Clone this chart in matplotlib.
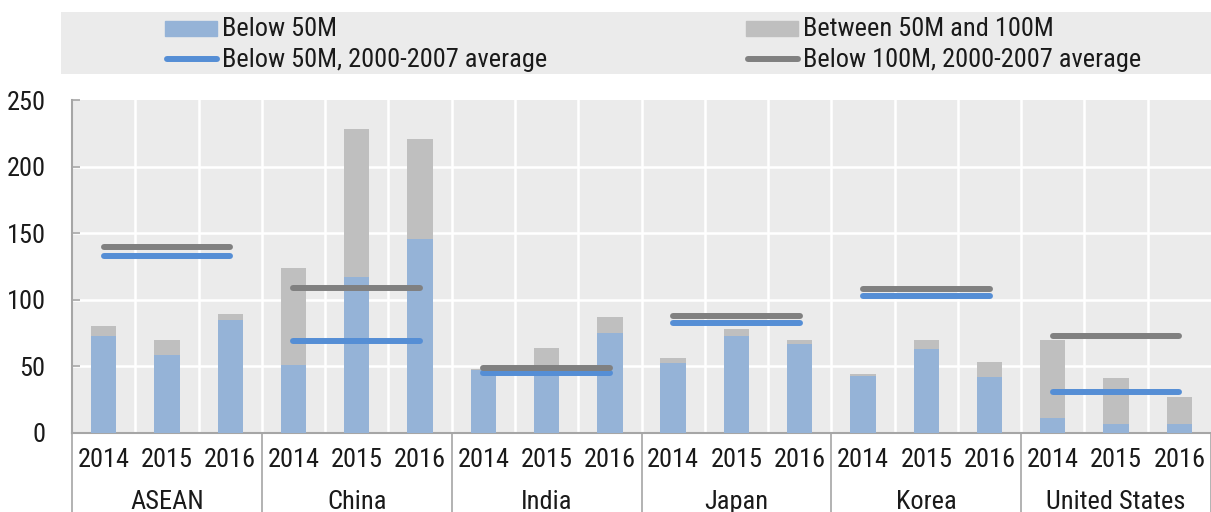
import matplotlib
matplotlib.use("Agg")
import matplotlib.pyplot as plt
from matplotlib import font_manager
from matplotlib.patches import Rectangle
from matplotlib.lines import Line2D
import numpy as np

# ---------------- data ----------------
groups = ["ASEAN", "China", "India", "Japan", "Korea", "United States"]
years = ["2014", "2015", "2016"]
below50 = [73, 58.5, 85,   51, 117, 145.5,   47, 47, 75,   52.5, 73, 67,   43, 63, 42,   11.5, 7, 7]
between50_100 = [7, 11.5, 4,   73, 111, 75.5,   1, 17, 12,   3.5, 5, 3,   1, 7, 11,   58.5, 34, 20]
below50_avg = [133, 69, 45, 82.5, 103, 30.5]
below100_avg = [140, 108.5, 49, 88, 108, 73]
yticks = [0, 50, 100, 150, 200, 250]
legend_labels = ["Below 50M", "Between 50M and 100M",
                 "Below 50M, 2000-2007 average", "Below 100M, 2000-2007 average"]

# ---------------- fonts ----------------
fam = "DejaVu Sans"
for cand in ["Liberation Sans Narrow", "Roboto Condensed", "Open Sans Condensed",
             "DejaVu Sans Condensed", "Liberation Sans"]:
    try:
        font_manager.findfont(cand, fallback_to_default=False)
        fam = cand
        break
    except Exception:
        pass
plt.rcParams["font.family"] = [fam, "DejaVu Sans"]

C_BLUE_BAR = "#95B3D7"
C_GRAY_BAR = "#BFBFBF"
C_BLUE_LINE = "#558ED5"
C_GRAY_LINE = "#808080"
C_BG = "#EBEBEB"
C_SPINE = "#A6A6A6"
C_TEXT = "#1a1a1a"
FS = 19

W, H = 1211, 512
fig = plt.figure(figsize=(W / 100, H / 100), dpi=100)

# main axes
left, right, top, bottom = 72, 1211, 100, 433
ax = fig.add_axes([left / W, (H - bottom) / H, (right - left) / W, (bottom - top) / H])
ax.set_facecolor(C_BG)

n = len(below50)
x = np.arange(n)
bw = 0.4
ax.bar(x, below50, width=bw, color=C_BLUE_BAR, zorder=3)
ax.bar(x, between50_100, width=bw, bottom=below50, color=C_GRAY_BAR, zorder=3)

for g in range(len(groups)):
    ax.plot([3 * g, 3 * g + 2], [below50_avg[g]] * 2, color=C_BLUE_LINE, lw=4.3,
            solid_capstyle="round", zorder=4)
for g in range(len(groups)):
    ax.plot([3 * g, 3 * g + 2], [below100_avg[g]] * 2, color=C_GRAY_LINE, lw=4.3,
            solid_capstyle="round", zorder=5)

ax.set_xlim(-0.5, n - 0.5)
ax.set_ylim(0, 250)

# grid
for yv in yticks[1:-1]:
    ax.axhline(yv, color="white", lw=1.8, zorder=1)
for xv in np.arange(0.5, n - 0.5, 1.0):
    ax.axvline(xv, color="white", lw=1.8, zorder=1)

ax.set_yticks(yticks)
ax.set_yticklabels([str(v) for v in yticks], fontsize=FS)
ax.tick_params(axis="y", direction="in", length=6, width=1.2, color=C_SPINE, pad=19,
               labelcolor=C_TEXT)
ax.set_xticks(x)
ax.set_xticklabels(years * len(groups), fontsize=FS)
ax.tick_params(axis="x", length=0, pad=11, labelcolor=C_TEXT)

for s in ["top", "right"]:
    ax.spines[s].set_visible(False)
for s in ["left", "bottom"]:
    ax.spines[s].set_color(C_SPINE)
    ax.spines[s].set_linewidth(1.5)

# separators and group labels under the axis
trans = ax.get_xaxis_transform()
for g in range(len(groups) + 1):
    ax.plot([3 * g - 0.5] * 2, [0, -0.25], transform=trans, color=C_SPINE, lw=1.2,
            clip_on=False)
for g, name in enumerate(groups):
    ax.text(3 * g + 1, -0.208, name, transform=trans, ha="center", va="center",
            fontsize=FS, color=C_TEXT)

# legend box
lx0, lx1, ly0, ly1 = 61, 1211, 12, 74
lax = fig.add_axes([lx0 / W, (H - ly1) / H, (lx1 - lx0) / W, (ly1 - ly0) / H])
lax.set_facecolor(C_BG)
lax.set_xlim(lx0, lx1)
lax.set_ylim(ly1, ly0)
lax.set_xticks([])
lax.set_yticks([])
for s in lax.spines.values():
    s.set_visible(False)

cols = [165, 746]
rows = [28, 59]
hw = 52
lax.add_patch(Rectangle((cols[0], rows[0] - 7.5), hw, 15, color=C_BLUE_BAR))
lax.add_patch(Rectangle((cols[1], rows[0] - 7.5), hw, 15, color=C_GRAY_BAR))
lax.add_line(Line2D([cols[0] + 2, cols[0] + hw], [rows[1]] * 2, color=C_BLUE_LINE, lw=4.3,
                    solid_capstyle="round"))
lax.add_line(Line2D([cols[1] + 2, cols[1] + hw], [rows[1]] * 2, color=C_GRAY_LINE, lw=4.3,
                    solid_capstyle="round"))
for i, (c, r) in enumerate([(0, 0), (1, 0), (0, 1), (1, 1)]):
    lax.text(cols[c] + 57, rows[r] + 1, legend_labels[i], va="center", ha="left",
             fontsize=FS, color=C_TEXT)

fig.savefig("out.png", dpi=100)
